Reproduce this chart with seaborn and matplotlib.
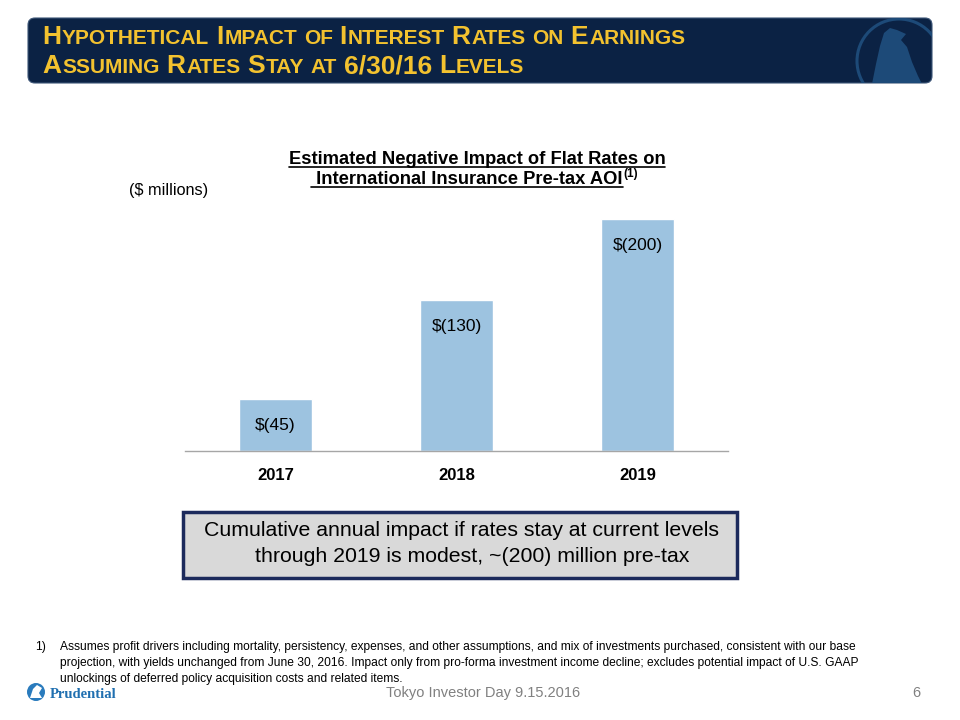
import numpy as np
import pandas as pd
import seaborn as sns
import matplotlib as mpl
from matplotlib import pyplot as plt
from matplotlib import font_manager
from matplotlib.patches import FancyBboxPatch, Circle, Polygon, Rectangle

sns.set_style('white')


def pick(names):
    # first installed family from the list
    for n in names:
        try:
            font_manager.findfont(font_manager.FontProperties(family=n), fallback_to_default=False)
            return n
        except Exception:
            pass
    return 'DejaVu Sans'


SANS = pick(['Liberation Sans', 'Arial'])
SERIF = pick(['Liberation Serif', 'DejaVu Serif'])
plt.rcParams['font.family'] = [SANS, 'DejaVu Sans']
plt.rcParams['text.color'] = 'black'
plt.rcParams['xtick.color'] = 'black'

# chart data ($ millions, shown as negative impact)
years = ['2017', '2018', '2019']
impact = [45, 130, 200]
bar_labels = ['$(45)', '$(130)', '$(200)']

header_lines = ['Hypothetical Impact of Interest Rates on Earnings',
                'Assuming Rates Stay at 6/30/16 Levels']
chart_title = ['Estimated Negative Impact of Flat Rates on',
               ' International Insurance Pre-tax AOI']
callout = ['Cumulative annual impact if rates stay at current levels',
           'through 2019 is modest, ~(200) million pre-tax']
footnote = ['Assumes profit drivers including mortality, persistency, expenses, and other assumptions, and mix of investments purchased, consistent with our base',
            'projection, with yields unchanged from June 30, 2016. Impact only from pro-forma investment income decline; excludes potential impact of U.S. GAAP',
            'unlockings of deferred policy acquisition costs and related items.']

NAVY = '#0b2244'
GOLD = '#f3c22f'
BAR = '#9dc3e0'
MARK = '#1d4a78'

fig = plt.figure(figsize=(9.6, 7.2), dpi=100)
fig.patch.set_facecolor('white')

# full-figure axes in pixel coordinates for the slide decoration
bg = fig.add_axes([0, 0, 1, 1], zorder=0)
bg.set_xlim(0, 960)
bg.set_ylim(720, 0)
bg.axis('off')
renderer = fig.canvas.get_renderer()

# header band
band = FancyBboxPatch((28, 18), 904, 65, boxstyle='round,pad=0,rounding_size=7',
                      fc=NAVY, ec='#3d5678', lw=0.8)
bg.add_patch(band)
ring = Circle((899, 61), 42, fill=False, ec=MARK, lw=2.2)
bg.add_patch(ring)
ring.set_clip_path(band)
rock = Polygon([(872, 84), (876, 64), (880, 46), (884, 33), (890, 28), (897, 30),
                (906, 34), (901, 40), (907, 47), (912, 62), (918, 76), (922, 84)],
               closed=True, fc=MARK, ec='none')
bg.add_patch(rock)
rock.set_clip_path(band)


def smallcaps(s, x, y, big, small):
    for word in s.split(' '):
        runs = []
        for c in word:
            size = small if c.islower() else big
            if runs and runs[-1][1] == size:
                runs[-1][0] += c.upper()
            else:
                runs.append([c.upper(), size])
        for txt, size in runs:
            t = bg.text(x, y, txt, fontsize=size, color=GOLD, weight='bold',
                        ha='left', va='baseline')
            x += t.get_window_extent(renderer).width + 1.0
        x += big * 0.3


smallcaps(header_lines[0], 42, 44.5, 19, 15)
smallcaps(header_lines[1], 42, 73, 19, 15)

# chart title, underlined
t1 = bg.text(477, 164, chart_title[0], ha='center', va='baseline', fontsize=13.2, weight='bold')
t2 = bg.text(311, 184, chart_title[1], ha='left', va='baseline', fontsize=13.2, weight='bold')
for t, yb in [(t1, 164), (t2, 184)]:
    bb = t.get_window_extent(renderer)
    bg.plot([bb.x0, bb.x1], [yb + 2.5, yb + 2.5], color='black', lw=1.2)
bb2 = t2.get_window_extent(renderer)
bg.text(bb2.x1 + 1, 177, '(1)', ha='left', va='baseline', fontsize=8.5, weight='bold')

bg.text(129, 191, '($ millions)', ha='left', va='center', fontsize=11.7)

# bar chart
ax = fig.add_axes([185 / 960, (720 - 451) / 720, 543 / 960, 241 / 720], zorder=1)
ax.patch.set_alpha(0)
sns.barplot(x=years, y=impact, color=BAR, saturation=1, width=0.4, ax=ax)
ax.set_xlim(-0.5, 2.5)
ax.set_ylim(0, 207.8)
for side in ['top', 'left', 'right']:
    ax.spines[side].set_visible(False)
ax.spines['bottom'].set_color('#a6a6a6')
ax.spines['bottom'].set_linewidth(1)
ax.set_yticks([])
ax.set_xticks([0, 1, 2])
ax.set_xticklabels(years, fontsize=12, weight='bold')
ax.set_xticks([-0.5, 0.5, 1.5, 2.5], minor=True)
ax.tick_params(axis='x', which='major', length=0, pad=12)
ax.tick_params(axis='x', which='minor', length=5, direction='out', color='#a6a6a6', width=1)
ax.set_xlabel('')
ax.set_ylabel('')
for i, v in enumerate(impact):
    ax.annotate(bar_labels[i], (i, v), xytext=(0, -19), textcoords='offset points',
                ha='center', va='center', fontsize=12.5)

# callout box
bg.add_patch(Rectangle((183, 512), 554, 66, fc='#d9d9d9', ec='#1c2a5c', lw=2.5))
bg.text(461, 531, callout[0], ha='center', va='center', fontsize=15.3)
bg.text(255, 556, callout[1], ha='left', va='center', fontsize=15.3)

# footnote
bg.text(35, 647, '1)', ha='left', va='center', fontsize=8.65)
for k, line in enumerate(footnote):
    bg.text(60, 647 + 16 * k, line, ha='left', va='center', fontsize=8.65)

# footer
bg.text(483, 693, 'Tokyo Investor Day 9.15.2016', ha='center', va='center',
        fontsize=10.5, color='#808080')
bg.text(916, 693, '6', ha='center', va='center', fontsize=10.5, color='#808080')
bg.add_patch(Circle((36, 692), 9, fc='#2a7bbd', ec='none'))
bg.add_patch(Polygon([(30, 698), (33, 689), (37, 685), (42, 688), (39, 693), (42, 698)],
                     closed=True, fc='white', ec='none'))
bg.text(50, 694, 'Prudential', ha='left', va='center', fontsize=10.5, weight='bold',
        family=SERIF, color='#1f6fb0')

fig.savefig('out.png', dpi=100)
